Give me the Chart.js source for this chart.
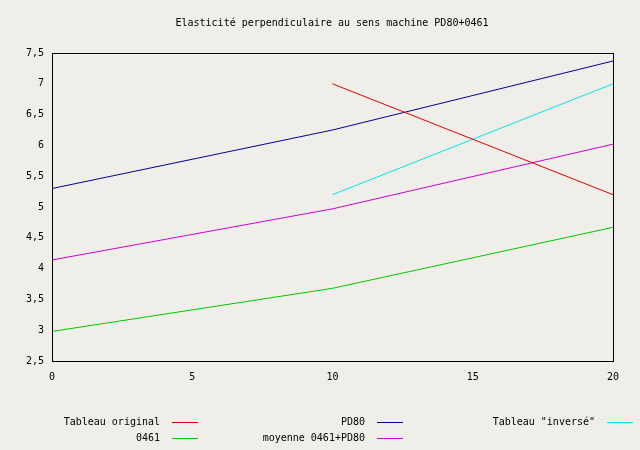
<!DOCTYPE html><html><head><script src="https://cdn.jsdelivr.net/npm/chart.js@4"></script>
<style>body{margin:0;background:#efeee8}canvas{display:block}</style></head><body>
<div style="width:640px;height:450px"><canvas id="c"></canvas></div>
<script>
const xs=[0,10,20];
const originalX=[10,20], originalY=[7.0,5.2];
const pd80Y=[5.3,6.25,7.37];
const inverseX=[10,20], inverseY=[5.2,7.0];
const y0461=[2.98,3.68,4.67];
const moyY=[4.14,4.97,6.02];
const labels=['Tableau original','PD80','Tableau "inversé"','0461','moyenne 0461+PD80'];
const colors=['#e00000','#0000a0','#00e8e8','#00c800','#d000d0'];
const pts=(x,y)=>x.map((v,i)=>({x:v,y:y[i]}));
const series=[pts(originalX,originalY),pts(xs,pd80Y),pts(inverseX,inverseY),pts(xs,y0461),pts(xs,moyY)];
const font='DejaVu Sans Mono';
const deco={id:'deco',afterDraw(ch){const c=ch.ctx,a=ch.chartArea;c.save();
c.strokeStyle='#000';c.lineWidth=1;c.strokeRect(Math.round(a.left)+.5,Math.round(a.top)+.5,Math.round(a.right-a.left),Math.round(a.bottom-a.top));
c.fillStyle='#000';c.font='10px "'+font+'"';c.textAlign='center';c.textBaseline='middle';
c.fillText('Elasticité perpendiculaire au sens machine PD80+0461',332,23);
const pos=[[160,422],[365,422],[595,422],[160,438],[365,438]];
c.textAlign='right';
pos.forEach((p,i)=>{c.fillStyle='#000';c.fillText(labels[i],p[0],p[1]);c.strokeStyle=colors[i];c.beginPath();c.moveTo(p[0]+12,p[1]+.5);c.lineTo(p[0]+38,p[1]+.5);c.stroke();});
c.restore();}};
new Chart(document.getElementById('c'),{type:'line',
data:{datasets:series.map((d,i)=>({label:labels[i],data:d,borderColor:colors[i],borderWidth:1,pointRadius:0,tension:0}))},
options:{responsive:true,maintainAspectRatio:false,animation:false,
layout:{padding:{top:53,right:27,bottom:0,left:0}},
plugins:{legend:{display:false},tooltip:{enabled:false}},
scales:{
x:{type:'linear',min:0,max:20,afterFit(s){s.height=89},grid:{display:false,drawTicks:false},border:{display:false},
ticks:{stepSize:5,color:'#000',font:{family:font,size:10},padding:10}},
y:{min:2.5,max:7.5,afterFit(s){s.width=52},grid:{display:false,drawTicks:false},border:{display:false},
ticks:{stepSize:0.5,color:'#000',font:{family:font,size:10},padding:8,callback:v=>String(v).replace('.',',')}}}},
plugins:[deco]});
</script></body></html>
